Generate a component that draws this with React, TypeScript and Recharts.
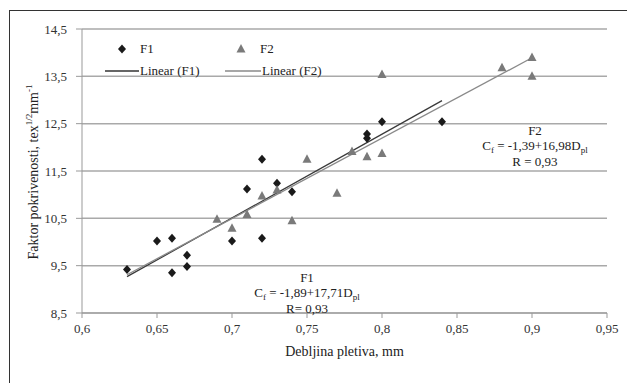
import {
  ReferenceDot,
  ReferenceLine,
  Scatter,
  ScatterChart,
  CartesianGrid,
  XAxis,
  YAxis,
} from 'recharts'

const xTicks = [0.6, 0.65, 0.7, 0.75, 0.8, 0.85, 0.9, 0.95]
const yTicks = [8.5, 9.5, 10.5, 11.5, 12.5, 13.5, 14.5]

const f1Points = [
  { x: 0.63, y: 9.42 },
  { x: 0.65, y: 10.02 },
  { x: 0.66, y: 10.08 },
  { x: 0.66, y: 9.35 },
  { x: 0.67, y: 9.72 },
  { x: 0.67, y: 9.48 },
  { x: 0.7, y: 10.02 },
  { x: 0.71, y: 11.12 },
  { x: 0.72, y: 11.75 },
  { x: 0.72, y: 10.08 },
  { x: 0.73, y: 11.24 },
  { x: 0.74, y: 11.06 },
  { x: 0.79, y: 12.28 },
  { x: 0.79, y: 12.19 },
  { x: 0.8, y: 12.54 },
  { x: 0.84, y: 12.54 },
]

const f2Points = [
  { x: 0.69, y: 10.48 },
  { x: 0.7, y: 10.29 },
  { x: 0.71, y: 10.58 },
  { x: 0.72, y: 10.97 },
  { x: 0.73, y: 11.1 },
  { x: 0.74, y: 10.45 },
  { x: 0.75, y: 11.75 },
  { x: 0.77, y: 11.03 },
  { x: 0.78, y: 11.91 },
  { x: 0.79, y: 11.8 },
  { x: 0.8, y: 11.87 },
  { x: 0.8, y: 13.54 },
  { x: 0.88, y: 13.68 },
  { x: 0.9, y: 13.9 },
  { x: 0.9, y: 13.5 },
]

// regression lines as given in the figure
const f1Fit = { a: -1.89, b: 17.71, from: 0.63, to: 0.84, r: 'R= 0,93' }
const f2Fit = { a: -1.39, b: 16.98, from: 0.63, to: 0.9, r: 'R = 0,93' }

const font = "'Liberation Serif', 'Times New Roman', serif"
const fmt = (v: number) => String(v).replace('.', ',')

const Diamond = (p: any) => (
  <polygon
    points={`${p.cx},${p.cy - 4.5} ${p.cx + 4},${p.cy} ${p.cx},${p.cy + 4.5} ${p.cx - 4},${p.cy}`}
    fill="#1a1a1a"
  />
)

const Triangle = (p: any) => (
  <polygon
    points={`${p.cx},${p.cy - 5} ${p.cx + 4.5},${p.cy + 3.5} ${p.cx - 4.5},${p.cy + 3.5}`}
    fill="#7a7a7a"
  />
)

const Equation = ({ cx, cy, name, a, b, r }: any) => (
  <text x={cx} y={cy} textAnchor="middle" style={{ fontFamily: font }} fontSize={13} fill="#222">
    <tspan x={cx} dy={-11}>{name}</tspan>
    <tspan x={cx} dy={15}>C</tspan>
    <tspan dy={3} fontSize={9}>f</tspan>
    <tspan dy={-3}>{` = ${fmt(a)}+${fmt(b)}D`}</tspan>
    <tspan dy={3} fontSize={9}>pl</tspan>
    <tspan x={cx} dy={13}>{r}</tspan>
  </text>
)

const YLabel = () => (
  <text
    transform="translate(38,172) rotate(-90)"
    textAnchor="middle"
    style={{ fontFamily: font }}
    fontSize={14}
    fill="#222"
  >
    Faktor pokrivenosti, tex
    <tspan dy={-6} fontSize={9}>1/2</tspan>
    <tspan dy={6}>mm</tspan>
    <tspan dy={-6} fontSize={9}>-1</tspan>
  </text>
)

function ChartLegend() {
  return (
    <svg
      width={260}
      height={50}
      style={{ position: 'absolute', left: 95, top: 38, fontFamily: font, fontSize: 13 }}
    >
      <polygon points="27,6.5 31,11 27,15.5 23,11" fill="#1a1a1a" />
      <text x={45} y={15} fill="#222">F1</text>
      <polygon points="146,6 150.5,14.5 141.5,14.5" fill="#7a7a7a" />
      <text x={165} y={15} fill="#222">F2</text>
      <line x1={10} y1={33} x2={44} y2={33} stroke="#333" strokeWidth={1.3} />
      <text x={45} y={37} fill="#222">Linear (F1)</text>
      <line x1={130} y1={33} x2={166} y2={33} stroke="#8a8a8a" strokeWidth={1.3} />
      <text x={167} y={37} fill="#222">Linear (F2)</text>
    </svg>
  )
}

export default function App() {
  const tick = { fontSize: 13, fill: '#333', style: { fontFamily: font } }
  return (
    <div
      style={{
        position: 'fixed',
        left: 0,
        top: 0,
        width: 627,
        height: 383,
        overflow: 'hidden',
        background: '#fff',
        fontFamily: font,
      }}
    >
      <div
        style={{
          position: 'absolute',
          left: 9,
          top: 10,
          width: 700,
          height: 400,
          borderTop: '1.5px solid #333',
          borderLeft: '1.5px solid #333',
        }}
      />
      <ScatterChart
        width={627}
        height={383}
        margin={{ top: 29, right: 20, bottom: 0, left: 0 }}
        style={{ position: 'absolute', left: 0, top: 0, fontFamily: font }}
      >
        <CartesianGrid vertical={false} stroke="#a9a9a9" strokeWidth={1.5} />
        <XAxis
          type="number"
          dataKey="x"
          domain={[0.6, 0.95]}
          ticks={xTicks}
          tickFormatter={fmt}
          height={70}
          tick={tick}
          tickSize={5}
          tickMargin={6}
          stroke="#999"
          label={{
            value: 'Debljina pletiva, mm',
            position: 'insideBottom',
            offset: 27,
            style: { fontFamily: font, fontSize: 14, fill: '#222' },
          }}
        />
        <YAxis
          type="number"
          dataKey="y"
          domain={[8.5, 14.5]}
          ticks={yTicks}
          tickFormatter={fmt}
          width={82}
          tick={tick}
          tickSize={6}
          tickMargin={9}
          stroke="#999"
          label={<YLabel />}
        />
        <ReferenceLine
          segment={[
            { x: f1Fit.from, y: f1Fit.a + f1Fit.b * f1Fit.from },
            { x: f1Fit.to, y: f1Fit.a + f1Fit.b * f1Fit.to },
          ]}
          stroke="#3a3a3a"
          strokeWidth={1.3}
        />
        <ReferenceLine
          segment={[
            { x: f2Fit.from, y: f2Fit.a + f2Fit.b * f2Fit.from },
            { x: f2Fit.to, y: f2Fit.a + f2Fit.b * f2Fit.to },
          ]}
          stroke="#8a8a8a"
          strokeWidth={1.3}
        />
        <Scatter name="F1" data={f1Points} shape={<Diamond />} isAnimationActive={false} />
        <Scatter name="F2" data={f2Points} shape={<Triangle />} isAnimationActive={false} />
        <ReferenceDot
          x={0.75}
          y={8.92}
          r={0}
          shape={(p: any) => <Equation {...p} name="F1" a={f1Fit.a} b={f1Fit.b} r={f1Fit.r} />}
        />
        <ReferenceDot
          x={0.902}
          y={12.03}
          r={0}
          shape={(p: any) => <Equation {...p} name="F2" a={f2Fit.a} b={f2Fit.b} r={f2Fit.r} />}
        />
      </ScatterChart>
      <ChartLegend />
    </div>
  )
}
